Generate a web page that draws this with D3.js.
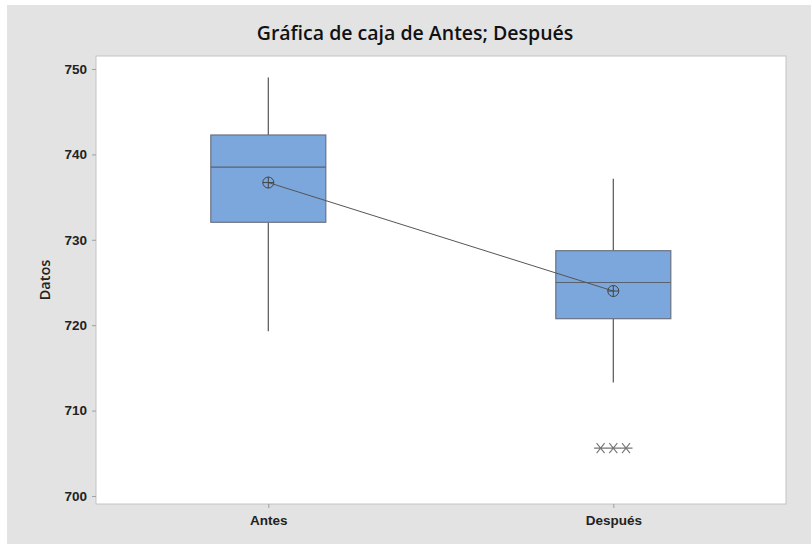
<!DOCTYPE html>
<html>
<head>
<meta charset="utf-8">
<script src="https://cdn.jsdelivr.net/npm/d3@7"></script>
<style>
  html, body { margin: 0; padding: 0; background: #ffffff; }
  svg { display: block; font-family: "Open Sans", "Noto Sans", sans-serif; }
</style>
</head>
<body>
<svg id="chart" width="811" height="544"></svg>
<script>
// Box plot summaries for each sample
const categories = ["Antes", "Después"];
const q1Values = [732.05, 720.76];
const medianValues = [738.5, 725.0];
const q3Values = [742.27, 728.72];
const whiskerLow = [719.3, 713.3];
const whiskerHigh = [749.0, 737.15];
const meanValues = [736.7, 724.0];
// Outliers (tied values) by category
const outlierCategory = ["Después", "Después", "Después"];
const outlierValues = [705.6, 705.6, 705.6];
const yTicks = [700, 710, 720, 730, 740, 750];

const svg = d3.select("#chart");

// outer panel
svg.append("rect")
  .attr("x", 7).attr("y", 5).attr("width", 804).attr("height", 539)
  .attr("fill", "#e3e3e3");

const plot = { left: 96, right: 786, top: 56, bottom: 504 };

svg.append("rect")
  .attr("x", plot.left).attr("y", plot.top)
  .attr("width", plot.right - plot.left).attr("height", plot.bottom - plot.top)
  .attr("fill", "#ffffff").attr("stroke", "#c4c4c4").attr("stroke-width", 1);

const y = d3.scaleLinear().domain([699.06, 751.52]).range([plot.bottom, plot.top]);
const x = d3.scalePoint().domain(categories).range([268.3, 613.3]);
const boxWidth = 115;

// axes
const yAxis = d3.axisLeft(y).tickValues(yTicks).tickSize(4).tickPadding(5).tickFormat(d3.format("d"));
const gy = svg.append("g").attr("transform", `translate(${plot.left},0)`).call(yAxis);
gy.select(".domain").remove();
gy.selectAll(".tick line").attr("stroke", "#a0a0a0");
gy.selectAll(".tick text").attr("fill", "#222").attr("font-size", 13.5).attr("font-weight", 600);

const xAxis = d3.axisBottom(x).tickSize(4).tickPadding(7);
const gx = svg.append("g").attr("transform", `translate(0,${plot.bottom})`).call(xAxis);
gx.select(".domain").remove();
gx.selectAll(".tick line").attr("stroke", "#a0a0a0");
gx.selectAll(".tick text").attr("fill", "#222").attr("font-size", 13.5).attr("font-weight", 600);

// axis title
svg.append("text")
  .attr("transform", `translate(50,${(plot.top + plot.bottom) / 2}) rotate(-90)`)
  .attr("text-anchor", "middle")
  .attr("font-size", 14.5).attr("font-weight", 600).attr("fill", "#222")
  .text("Datos");

// chart title
svg.append("text")
  .attr("x", 415).attr("y", 40)
  .attr("text-anchor", "middle")
  .attr("font-size", 19.5).attr("font-weight", 600).attr("fill", "#111")
  .text("Gráfica de caja de Antes; Después");

const stats = categories.map((c, i) => ({
  cat: c, q1: q1Values[i], med: medianValues[i], q3: q3Values[i],
  lo: whiskerLow[i], hi: whiskerHigh[i], mean: meanValues[i]
}));

const g = svg.append("g");

// whiskers
g.selectAll(".whisker-hi").data(stats).join("line")
  .attr("x1", d => x(d.cat)).attr("x2", d => x(d.cat))
  .attr("y1", d => y(d.hi)).attr("y2", d => y(d.q3))
  .attr("stroke", "#555").attr("stroke-width", 1.2);
g.selectAll(".whisker-lo").data(stats).join("line")
  .attr("x1", d => x(d.cat)).attr("x2", d => x(d.cat))
  .attr("y1", d => y(d.q1)).attr("y2", d => y(d.lo))
  .attr("stroke", "#555").attr("stroke-width", 1.2);

// boxes
g.selectAll(".box").data(stats).join("rect")
  .attr("x", d => x(d.cat) - boxWidth / 2)
  .attr("y", d => y(d.q3))
  .attr("width", boxWidth)
  .attr("height", d => y(d.q1) - y(d.q3))
  .attr("fill", "#7ba7dc").attr("stroke", "#6a7282").attr("stroke-width", 1.2);

// medians
g.selectAll(".median").data(stats).join("line")
  .attr("x1", d => x(d.cat) - boxWidth / 2).attr("x2", d => x(d.cat) + boxWidth / 2)
  .attr("y1", d => y(d.med)).attr("y2", d => y(d.med))
  .attr("stroke", "#5a6272").attr("stroke-width", 1.2);

// mean connect line
g.append("path")
  .datum(stats)
  .attr("d", d3.line().x(d => x(d.cat)).y(d => y(d.mean)))
  .attr("fill", "none").attr("stroke", "#555").attr("stroke-width", 1);

// mean symbols: circle with cross
const r = 5.5;
const means = g.selectAll(".mean").data(stats).join("g")
  .attr("transform", d => `translate(${x(d.cat)},${y(d.mean)})`);
means.append("circle").attr("r", r).attr("fill", "none").attr("stroke", "#444").attr("stroke-width", 1);
means.append("path").attr("d", `M${-r},0H${r}M0,${-r}V${r}`).attr("stroke", "#444").attr("stroke-width", 1);

// outliers: ties spread horizontally
const outliers = outlierValues.map((v, i) => ({ cat: outlierCategory[i], v }));
const tieCount = d3.rollup(outliers, a => a.length, d => d.cat + "|" + d.v);
const seen = new Map();
outliers.forEach(d => {
  const key = d.cat + "|" + d.v;
  const n = tieCount.get(key);
  const k = seen.get(key) || 0;
  seen.set(key, k + 1);
  d.dx = (k - (n - 1) / 2) * 12.7;
});
const s = 5;
g.selectAll(".outlier").data(outliers).join("path")
  .attr("transform", d => `translate(${x(d.cat) + d.dx},${y(d.v)})`)
  .attr("d", `M${-s - 1.5},0H${s + 1.5}M${-s * 0.8},${-s}L${s * 0.8},${s}M${-s * 0.8},${s}L${s * 0.8},${-s}`)
  .attr("stroke", "#777").attr("stroke-width", 1.1).attr("fill", "none");
</script>
</body>
</html>
